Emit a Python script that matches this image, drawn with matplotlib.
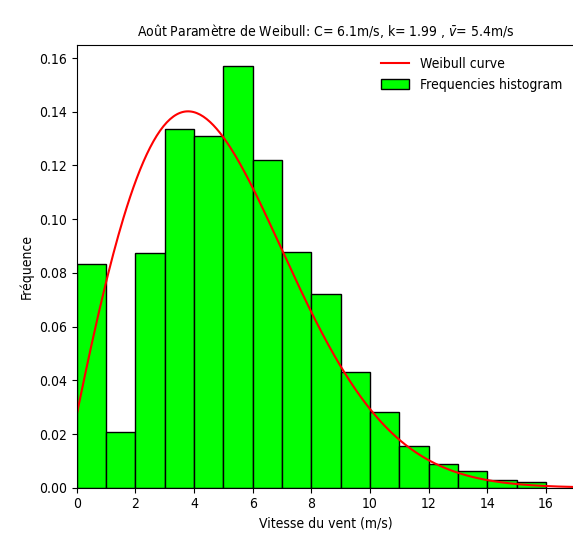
import numpy as np
import matplotlib.pyplot as plt

plt.rcParams['font.family'] = ['DejaVu Sans']
plt.rcParams['font.stretch'] = 'condensed'

# Weibull parameters (from title)
C = 6.1
k = 1.99
v_moy = 5.4

# histogram: bin edges (m/s) and densities
bin_edges = [0, 1, 2, 3, 4, 5, 6, 7, 8, 9, 10, 11, 12, 13, 14, 15, 16]
freqs = [0.0834, 0.0206, 0.0875, 0.1334, 0.1311, 0.1570, 0.1222, 0.0876,
         0.0721, 0.0432, 0.0281, 0.0156, 0.0087, 0.0064, 0.0029, 0.0022]

fig = plt.figure(figsize=(5.73, 5.41), dpi=100)
ax = fig.add_axes([0.1339, 0.0985, 0.870, 0.819])

ax.bar(bin_edges[:-1], freqs, width=1, align='edge', color='#00ff00',
       edgecolor='black', linewidth=1, label='Frequencies histogram')

# weibull curve, plotted against bin start (centre = x + 0.5)
x = np.linspace(0, 17, 300)
t = x + 0.5
pdf = (k / C) * (t / C) ** (k - 1) * np.exp(-(t / C) ** k)
ax.plot(x, pdf, color='red', linewidth=1.5, label='Weibull curve')

ax.set_xlim(0, 17)
ax.set_ylim(0, 0.165)
ax.set_xticks(range(0, 17, 2))
ax.set_xlabel('Vitesse du vent (m/s)')
ax.set_ylabel('Fréquence')
ax.set_title(f'Août Paramètre de Weibull: C= {C}m/s, k= {k} , $\\bar{{v}}$= {v_moy}m/s', fontsize=10)
ax.legend(loc='upper right', frameon=False)

fig.savefig('out.png', dpi=100)
